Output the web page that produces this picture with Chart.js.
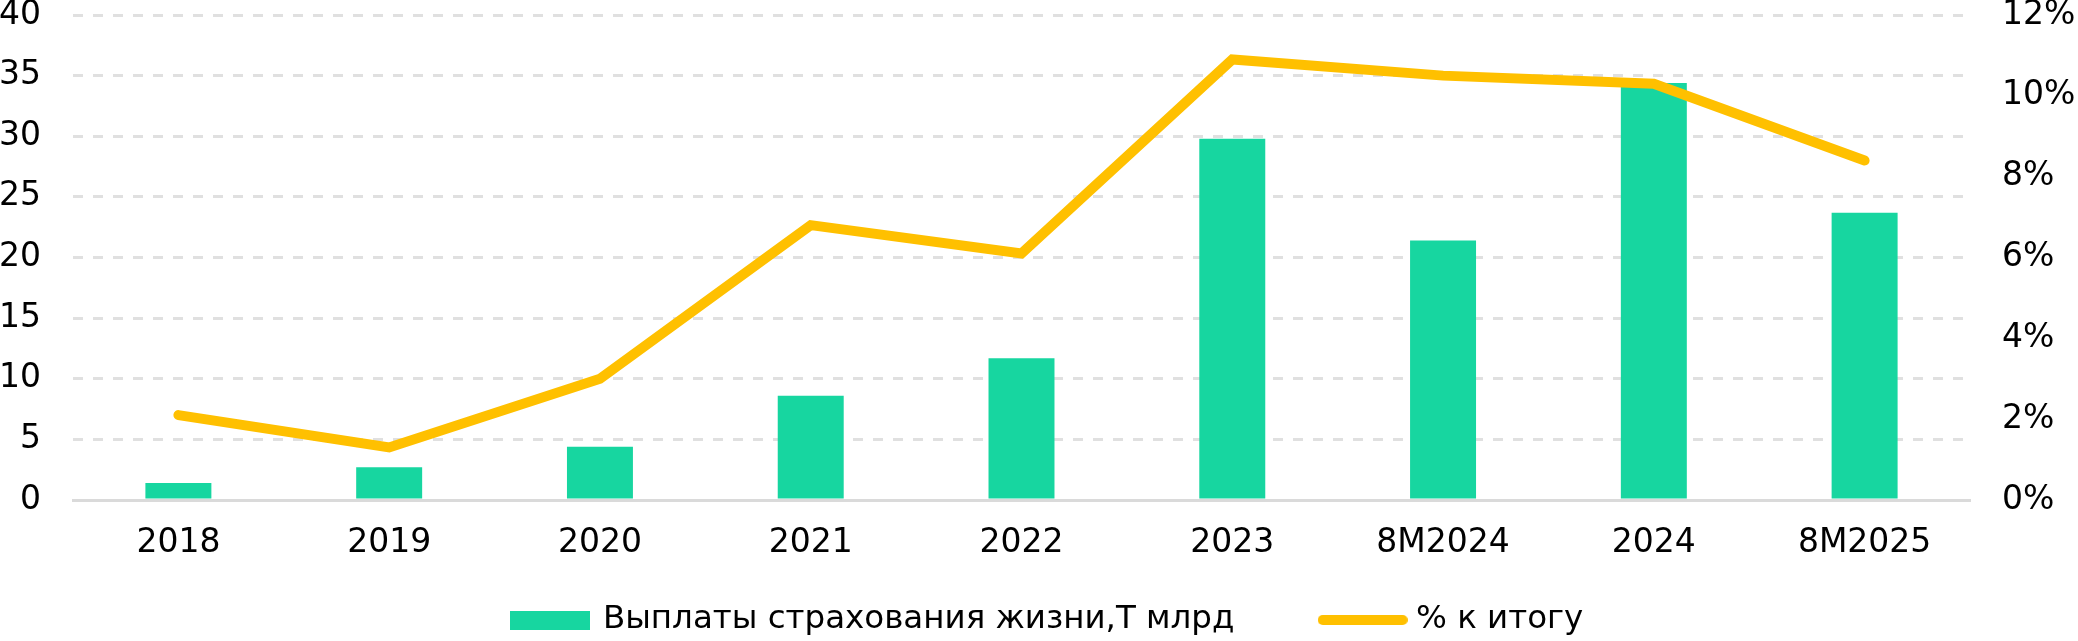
<!DOCTYPE html>
<html>
<head>
<meta charset="utf-8">
<script src="https://cdn.jsdelivr.net/npm/chart.js@4.4.1/dist/chart.umd.min.js"></script>
<style>
  html, body { margin: 0; padding: 0; background: #ffffff; }
  #wrap { width: 2078px; height: 641px; }
</style>
</head>
<body>
<div id="wrap"><canvas id="c" width="2078" height="641"></canvas></div>
<script>
const categories = ['2018', '2019', '2020', '2021', '2022', '2023', '8M2024', '2024', '8M2025'];
const payouts = [1.4, 2.7, 4.4, 8.6, 11.7, 29.8, 21.4, 34.4, 23.7];
const shareOfTotal = [2.1, 1.3, 3.0, 6.8, 6.1, 10.9, 10.5, 10.3, 8.4];
const leftTicks = [0, 5, 10, 15, 20, 25, 30, 35, 40];
const rightTicks = [0, 2, 4, 6, 8, 10, 12];
const barLabel = 'Выплаты страхования жизни,Т млрд';
const lineLabel = '% к итогу';

const GREEN = '#17D6A0';
const YELLOW = '#FFC000';
const GRID = '#E0E0E0';
const FONT = '"DejaVu Sans", Verdana, sans-serif';
const TICK_SIZE = 33;

// ---- layout targets (pixels) ----
const CANVAS_W = 2078, CANVAS_H = 641;
const PLOT_LEFT = 73;
const LEFT_PAD = 18;
const PLOT_BOTTOM = 500;
const LEGEND_CENTER_Y = 620;
const LEGEND_FIRST_X = 513, LEGEND_SECOND_X = 1326;
const LEGEND_TEXT_W = 630;
const SYMBOL_W = 74;

// legend symbols (drawn by Chart.js as point-style images)
function makeSymbol(w, h, draw) {
  const c = document.createElement('canvas');
  c.width = w; c.height = h;
  draw(c.getContext('2d'), w, h);
  return c;
}
const barSymbol = makeSymbol(80, 19, (g, w, h) => { g.fillStyle = GREEN; g.fillRect(0, 0, w, h); });
const lineSymbol = makeSymbol(90, 12, (g, w, h) => {
  g.strokeStyle = YELLOW; g.lineWidth = 10; g.lineCap = 'round';
  g.beginPath(); g.moveTo(5, h / 2); g.lineTo(w - 5, h / 2); g.stroke();
});

const mctx = document.createElement('canvas').getContext('2d');
function textWidth(str, size) {
  mctx.font = size + 'px ' + FONT;
  return mctx.measureText(str).width;
}
let legendSize = 30 * LEGEND_TEXT_W / textWidth(barLabel, 30);
legendSize = Math.max(26, Math.min(34, Math.round(legendSize * 2) / 2));
const firstItemW = SYMBOL_W + legendSize / 2 + textWidth(barLabel, legendSize);
const legendGap = Math.max(10, (LEGEND_SECOND_X - LEGEND_FIRST_X) - firstItemW);
const legendTop = LEGEND_CENTER_Y - legendGap - legendSize / 2;
const legendBottom = legendTop + legendSize + legendGap + 10;
const bottomPad = CANVAS_H - legendBottom;
const xAxisHeight = legendTop - PLOT_BOTTOM;

new Chart(document.getElementById('c'), {
  data: {
    labels: categories,
    datasets: [
      {
        type: 'bar',
        label: barLabel,
        data: payouts,
        yAxisID: 'y',
        backgroundColor: GREEN,
        borderWidth: 0,
        categoryPercentage: 1,
        barPercentage: 0.313,
        order: 2
      },
      {
        type: 'line',
        label: lineLabel,
        data: shareOfTotal,
        yAxisID: 'y1',
        borderColor: YELLOW,
        backgroundColor: YELLOW,
        borderWidth: 10,
        borderCapStyle: 'round',
        borderJoinStyle: 'miter',
        pointRadius: 0,
        tension: 0,
        order: 1
      }
    ]
  },
  options: {
    responsive: false,
    animation: false,
    events: [],
    layout: { padding: { top: 15, left: LEFT_PAD, right: 0, bottom: bottomPad } },
    plugins: {
      tooltip: { enabled: false },
      legend: {
        position: 'bottom',
        labels: {
          usePointStyle: true,
          pointStyleWidth: SYMBOL_W,
          boxHeight: 19,
          padding: legendGap,
          color: '#000',
          font: { family: FONT, size: legendSize },
          generateLabels: (chart) => {
            const ds = chart.data.datasets;
            return [
              { text: ds[0].label, datasetIndex: 0, pointStyle: barSymbol, fillStyle: GREEN, strokeStyle: GREEN, lineWidth: 0, fontColor: '#000', hidden: false },
              { text: ds[1].label, datasetIndex: 1, pointStyle: lineSymbol, fillStyle: YELLOW, strokeStyle: YELLOW, lineWidth: 0, fontColor: '#000', hidden: false }
            ];
          }
        }
      }
    },
    scales: {
      x: {
        type: 'category',
        offset: true,
        grid: { display: false, drawTicks: false },
        border: { display: true, color: '#DADADA', width: 3 },
        ticks: { color: '#000', font: { family: FONT, size: TICK_SIZE }, padding: 24, maxRotation: 0, autoSkip: false },
        afterFit: (s) => { s.height = xAxisHeight; s._computeLabelArea = () => undefined; }
      },
      y: {
        position: 'left',
        min: 0,
        max: 40,
        afterBuildTicks: (s) => { s.ticks = leftTicks.map(v => ({ value: v })); },
        grid: { color: GRID, lineWidth: 3, drawTicks: false },
        border: { display: false, dash: [10, 10] },
        ticks: { color: '#000', font: { family: FONT, size: TICK_SIZE }, padding: 32 },
        afterFit: (s) => {
          s.width = PLOT_LEFT - LEFT_PAD;
          s.paddingTop = 0; s.paddingBottom = 0;
          s._computeLabelArea = () => undefined;
        }
      },
      y1: {
        position: 'right',
        min: 0,
        max: 12,
        afterBuildTicks: (s) => { s.ticks = rightTicks.map(v => ({ value: v })); },
        grid: { display: false, drawTicks: false },
        border: { display: false },
        ticks: { color: '#000', font: { family: FONT, size: TICK_SIZE }, padding: 32, callback: (v) => v + '%' },
        afterFit: (s) => { s.width = 108; s.paddingTop = 0; s.paddingBottom = 0; }
      }
    }
  }
});
</script>
</body>
</html>
